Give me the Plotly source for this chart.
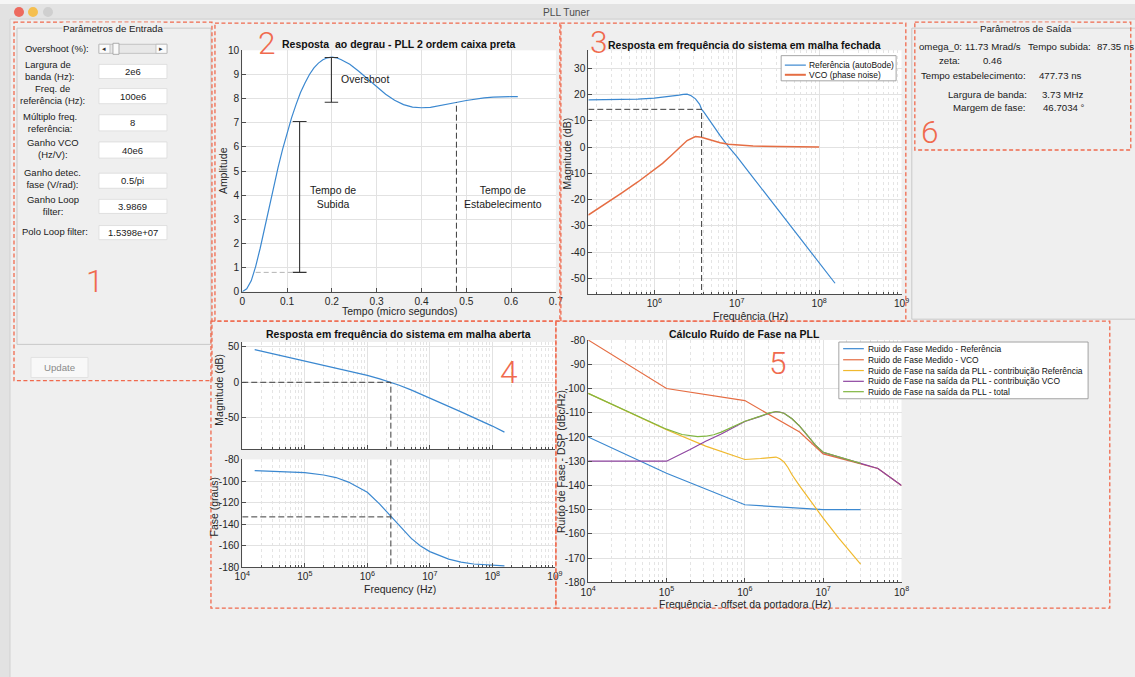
import plotly.graph_objects as go

W, H = 1135, 677
# the photographed page comes back with an 8 px frame and is scaled to 1135x677;
# positions below are given in the reference picture's pixels and mapped through this.
OX, OY = 8.0, 8.0
SX, SY = 1135 / 1151, 677 / 693
FS = 1.0 / ((SX + SY) / 2)

FONT = "Liberation Sans, Arial, Helvetica, sans-serif"
NUMFONT = "Roboto, Lato, sans-serif"
BG = "#efefef"
RED = "#f06a4e"
AX = "#4d4d4d"
TXT = "#262626"
C_BLUE = "#3b88d0"
C_ORANGE = "#e56d43"
C_YELLOW = "#f0b92e"
C_PURPLE = "#8e45a0"
C_GREEN = "#80b640"

# ---------------- data: step response (panel 2) ----------------
step_time_us = [0, 0.01, 0.02, 0.03, 0.04, 0.05, 0.06, 0.07, 0.08, 0.09, 0.10, 0.11, 0.12, 0.13,
                0.14, 0.15, 0.16, 0.17, 0.18, 0.19, 0.20, 0.21, 0.22, 0.23, 0.24, 0.26, 0.28, 0.30,
                0.32, 0.34, 0.36, 0.38, 0.40, 0.42, 0.44, 0.46, 0.48, 0.50, 0.52, 0.54, 0.56, 0.58,
                0.60, 0.615]
step_amplitude = [0, 0.12, 0.45, 1.05, 1.8, 2.65, 3.5, 4.35, 5.15, 5.9, 6.6, 7.2, 7.75, 8.25,
                  8.65, 9.0, 9.27, 9.47, 9.61, 9.69, 9.72, 9.69, 9.62, 9.53, 9.42, 9.13, 8.8, 8.48,
                  8.18, 7.93, 7.75, 7.65, 7.62, 7.64, 7.7, 7.77, 7.85, 7.92, 7.98, 8.03, 8.06, 8.08,
                  8.08, 8.08]
overshoot_bar = dict(t=0.199, low=7.85, high=9.70, half=0.015)
rise_bar = dict(t=0.128, low=0.80, high=7.05, half=0.0155)
rise_start = dict(t0=0.03, level=0.80)
settling = dict(t=0.478, level=7.85)

# ---------------- data: closed loop (panel 3) ----------------
cl_ref_freq_hz = [1.58e5, 3.16e5, 6.3e5, 1e6, 1.58e6, 2e6, 2.24e6, 2.5e6, 2.8e6, 3.16e6, 3.55e6,
                  3.75e6, 4e6, 5e6, 6.3e6, 7.9e6, 1e7, 1.58e7, 3.16e7, 6.3e7, 1e8, 1.56e8]
cl_ref_db = [18.0, 18.1, 18.3, 18.7, 19.3, 19.8, 20.1, 20.2, 19.6, 18.4, 16.3,
             14.4, 13.3, 8.8, 4.4, 0.3, -3.5, -11.6, -23.7, -35.8, -43.9, -51.9]
cl_vco_freq_hz = [1.58e5, 2.5e5, 4e5, 6.3e5, 1e6, 1.26e6, 1.58e6, 2e6, 2.5e6, 3.16e6, 3.55e6,
                  4e6, 5e6, 6.3e6, 7.9e6, 1e7, 1.58e7, 3.16e7, 1e8]
cl_vco_db = [-25.9, -21.6, -17.5, -13.3, -8.8, -6.2, -3.4, -0.4, 2.5, 4.0, 3.9,
             3.5, 2.5, 1.7, 1.1, 0.8, 0.45, 0.2, 0.05]
bandwidth = dict(f=3.75e6, level=14.4)

# ---------------- data: open loop (panel 4) ----------------
ol_freq_hz = [1.58e4, 3.16e4, 1e5, 3.16e5, 1e6, 1.58e6, 2.36e6, 3.16e6, 5e6, 1e7, 3.16e7, 1e8, 1.56e8]
ol_mag_db = [45.8, 39.9, 30.0, 20.1, 9.8, 4.8, 0.0, -3.8, -10.6, -22.0, -41.5, -61.5, -70.0]
ol_phase_freq_hz = [1.58e4, 5e4, 1e5, 2e5, 3.16e5, 5e5, 1e6, 1.58e6, 2e6, 2.4e6, 3.16e6, 4e6,
                    5e6, 7e6, 1e7, 2e7, 3.16e7, 5e7, 1e8, 1.56e8]
ol_phase_deg = [-90.4, -91.1, -92.2, -94.4, -96.8, -101.0, -110.5, -121.5, -128.0, -133.3, -141.0,
                -147.5, -153.0, -160.0, -165.5, -172.5, -175.3, -177.0, -178.3, -178.8]
crossover = dict(f=2.38e6, mag=0.0, phase=-133.3)

# ---------------- data: phase noise (panel 5) ----------------
pn_ref_freq = [1e4, 1e5, 1e6, 1e7, 3e7]
pn_ref_db = [-120, -135, -148, -150, -150]
pn_vco_freq = [1e4, 1e5, 1e6, 5e6, 1e7, 3e7, 5e7, 1e8]
pn_vco_db = [-80, -100, -105, -118, -127, -131, -133, -140]
pn_refc_freq = [1e4, 3.16e4, 1e5, 3.16e5, 1e6, 1.58e6, 2.24e6, 2.5e6, 2.8e6, 3.16e6, 3.55e6,
                4e6, 5e6, 6.3e6, 7.9e6, 1e7, 1.58e7, 3e7]
pn_refc_db = [-102, -109.5, -117, -123.8, -129.3, -128.9, -128.3, -128.3, -129.0, -130.3, -132.6,
              -135.6, -140.2, -144.8, -149.3, -153.5, -161.8, -172.5]
pn_vcoc_freq = [1e4, 1e5, 2e5, 3.16e5, 5e5, 1e6, 1.58e6, 2e6, 2.5e6, 2.8e6, 3.16e6, 4e6, 5e6,
                6.3e6, 7.9e6, 1e7, 1.58e7, 3e7, 5e7, 1e8]
pn_vcoc_db = [-130, -130, -125.2, -121.8, -118.8, -113.6, -111.5, -110.3, -109.6, -109.7, -110.2,
              -112.5, -115.5, -119.5, -123.3, -126.4, -128.4, -130.9, -133, -140]
pn_tot_freq = [1e4, 3.16e4, 1e5, 1.58e5, 2e5, 2.5e5, 3.16e5, 4e5, 5e5, 6.3e5, 1e6, 1.58e6, 2e6,
               2.5e6, 3.16e6, 4e6, 5e6, 6.3e6, 7.9e6, 1e7, 1.58e7, 3e7]
pn_tot_db = [-102, -109.5, -116.8, -119.0, -119.6, -119.9, -119.7, -119.1, -118.0, -116.6, -113.5,
             -111.4, -110.2, -109.5, -110.2, -112.5, -115.5, -119.4, -123.3, -126.3, -128.3, -130.9]

legend3_labels = ["Referência (autoBode)", "VCO (phase noise)"]
legend5_labels = ["Ruido de Fase Medido - Referência", "Ruido de Fase Medido - VCO",
                  "Ruido de Fase na saída da PLL - contribuição Referência",
                  "Ruido de Fase na saída da PLL - contribuição VCO",
                  "Ruido de Fase na saída da PLL - total"]

input_labels = ["Overshoot (%):", "Largura de<br>banda (Hz):", "Freq. de<br>referência (Hz):",
                "Múltiplo freq.<br>referência:", "Ganho VCO<br>(Hz/V):",
                "Ganho detec.<br>fase (V/rad):", "Ganho Loop<br>filter:", "Polo Loop filter:"]
input_values = ["2e6", "100e6", "8", "40e6", "0.5/pi", "3.9869", "1.5398e+07"]

# ---------------- helpers ----------------
annotations, shapes = [], []


def tx(x):
    return (x - OX) / SX


def ty(y):
    return (y - OY) / SY


def P(x, y):
    return tx(x) / W, 1 - ty(y) / H


def text(s, x, y, size=9.5, xa="center", ya="middle", color="#1a1a1a", weight="normal",
         angle=0, align="center", family=FONT, bg=None):
    xp, yp = P(x, y)
    d = dict(text=s, x=xp, y=yp, xref="paper", yref="paper", xanchor=xa, yanchor=ya,
             showarrow=False, textangle=angle, align=align, borderpad=0,
             font=dict(family=family, size=size * FS, color=color, weight=weight))
    if bg:
        d["bgcolor"] = bg
    annotations.append(d)


def rect(x0, y0, x1, y1, fill=None, line=None, width=1, dash=None, layer="above", kind="rect"):
    a, b = P(x0, y0)
    c, d = P(x1, y1)
    ln = dict(width=width if line else 0, color=line or "rgba(0,0,0,0)")
    if dash:
        ln["dash"] = dash
    shapes.append(dict(type=kind, xref="paper", yref="paper", x0=a, y0=b, x1=c, y1=d,
                       fillcolor=fill or "rgba(0,0,0,0)", line=ln, layer=layer))


def seg(x0, y0, x1, y1, color, width=1, dash=None):
    a, b = P(x0, y0)
    c, d = P(x1, y1)
    ln = dict(color=color, width=width)
    if dash:
        ln["dash"] = dash
    shapes.append(dict(type="line", xref="paper", yref="paper", x0=a, y0=b, x1=c, y1=d,
                       line=ln, layer="above"))


def dom_x(a, b):
    return [tx(a) / W, tx(b) / W]


def dom_y(top, bottom):
    return [1 - ty(bottom) / H, 1 - ty(top) / H]


def sup(e):
    return "10<sup>%d</sup>" % e


def axis(domain, rng, anchor, kind="linear", tickvals=None, ticktext=None, labels=True, minor=None):
    d = dict(domain=domain, range=rng, anchor=anchor, type=kind, showline=True, linecolor=AX,
             linewidth=1, mirror=False, ticks="inside", ticklen=4, tickcolor=AX, showgrid=True,
             gridcolor="#e2e2e2", gridwidth=1, zeroline=False, showticklabels=labels,
             tickfont=dict(family=FONT, size=10 * FS, color=TXT), fixedrange=True)
    if tickvals is not None:
        d.update(tickmode="array", tickvals=tickvals,
                 ticktext=ticktext if ticktext is not None else [str(v) for v in tickvals])
    if minor is not None:
        d["minor"] = dict(tickmode="array", tickvals=minor, showgrid=True, gridcolor="#e4e4e4",
                          griddash="dot", ticks="inside", ticklen=2, tickcolor=AX)
    return d


def minor_vals(d0, d1):
    return [m * 10 ** d for d in range(d0, d1) for m in range(2, 10)]


fig = go.Figure()


def line_trace(x, y, xa, ya, color, width=1.2, dash=None):
    ln = dict(color=color, width=width)
    if dash:
        ln["dash"] = dash
    fig.add_trace(go.Scatter(x=x, y=y, mode="lines", line=ln, xaxis=xa, yaxis=ya,
                             showlegend=False, hoverinfo="skip"))


DASH_DARK = "#3c3c3c"

# ---------- panel 2 ----------
line_trace(step_time_us, step_amplitude, "x", "y", C_BLUE)
for bar in (overshoot_bar, rise_bar):
    t, lo, hi, hw = bar["t"], bar["low"], bar["high"], bar["half"]
    line_trace([t, t, None, t - hw, t + hw, None, t - hw, t + hw],
               [lo, hi, None, hi, hi, None, lo, lo], "x", "y", "#333333", 1.1)
line_trace([rise_start["t0"], rise_bar["t"] - rise_bar["half"]], [rise_start["level"]] * 2,
           "x", "y", "#b4b4b4", 1, "5px,3px")
line_trace([settling["t"], settling["t"]], [0, settling["level"]], "x", "y", DASH_DARK, 1, "6px,3px")

# ---------- panel 3 ----------
line_trace(cl_ref_freq_hz, cl_ref_db, "x2", "y2", C_BLUE)
line_trace(cl_vco_freq_hz, cl_vco_db, "x2", "y2", C_ORANGE, 1.5)
line_trace([cl_ref_freq_hz[0], bandwidth["f"], bandwidth["f"]],
           [bandwidth["level"], bandwidth["level"], -56], "x2", "y2", DASH_DARK, 1, "6px,3px")

# ---------- panel 4 ----------
line_trace(ol_freq_hz, ol_mag_db, "x3", "y3", C_BLUE)
line_trace([1e4, crossover["f"], crossover["f"]], [crossover["mag"], crossover["mag"], -93.8],
           "x3", "y3", DASH_DARK, 1, "6px,3px")
line_trace(ol_phase_freq_hz, ol_phase_deg, "x4", "y4", C_BLUE)
line_trace([1e4, crossover["f"], None, crossover["f"], crossover["f"]],
           [crossover["phase"], crossover["phase"], None, -80, -180], "x4", "y4", DASH_DARK, 1, "6px,3px")

# ---------- panel 5 ----------
line_trace(pn_ref_freq, pn_ref_db, "x5", "y5", C_BLUE)
line_trace(pn_vco_freq, pn_vco_db, "x5", "y5", C_ORANGE)
line_trace(pn_refc_freq, pn_refc_db, "x5", "y5", C_YELLOW)
line_trace(pn_vcoc_freq, pn_vcoc_db, "x5", "y5", C_PURPLE)
line_trace(pn_tot_freq, pn_tot_db, "x5", "y5", C_GREEN)

# plot 2 annotations in data space
for s, x, y, xa in [("Overshoot", 0.219, 8.8, "left"),
                    ("Tempo de<br>Subida", 0.2025, 3.9, "center"),
                    ("Tempo de<br>Estabelecimento", 0.583, 3.9, "center")]:
    annotations.append(dict(text=s, x=x, y=y, xref="x", yref="y", xanchor=xa, yanchor="middle",
                            showarrow=False, borderpad=0, align="center",
                            font=dict(family=FONT, size=10.3 * FS, color="#1a1a1a")))

# ---------------- GUI chrome ----------------
# window background continued past the page edges (right and bottom)
shapes.append(dict(type="rect", xref="paper", yref="paper", x0=1.0, x1=1.04, y0=-0.06, y1=1.06,
                   fillcolor=BG, line=dict(width=0), layer="below"))
shapes.append(dict(type="rect", xref="paper", yref="paper", x0=-0.04, x1=1.04, y0=-0.06, y1=0.0,
                   fillcolor=BG, line=dict(width=0), layer="below"))
rect(0, -10, 1160, 7, fill="#f6f6f6", layer="below")
rect(10, 7, 1160, 22, fill="#e3e3e3", layer="below")
seg(10, 22, 1160, 22, "#cdcdcd", 1)
rect(-10, 7, 10, 700, fill="#e2e2e2", layer="below")
seg(10, 22, 10, 700, "#d0d0d0", 1)
for cx, col in [(19, "#ed6a5e"), (33, "#f5bf4f"), (48, "#cfcfcf")]:
    rect(cx - 5, 10, cx + 5, 20, fill=col, line=None, kind="circle")
text("PLL Tuner", 567, 15, size=10, color="#4d4d4d")

# input panel
rect(17, 31, 211, 345, line="#c8c8c8", width=1, layer="below")
text("Parâmetros de Entrada", 113.5, 31.5, size=9.5, bg=BG)
label_pos = [(24, 51, "left"), (24, 73, "left"), (53, 97, "center"), (50, 125, "center"),
             (53, 150.5, "center"), (52.5, 180.5, "center"), (53, 207, "center"), (55, 233, "center")]
for lab, (x, y, xa) in zip(input_labels, label_pos):
    text(lab, x, y, size=9.3, xa=xa, align="left" if xa == "left" else "center")
box_rows = [(67, 81), (91, 106), (117, 133), (144, 160), (175, 190), (201, 215), (227, 241)]
for val, (y0, y1) in zip(input_values, box_rows):
    rect(99, y0, 167, y1, fill="white", line="#dadada", width=0.8)
    text(val, 133, (y0 + y1) / 2, size=9.3)
# slider
rect(99, 47, 167, 56, fill="#e8e8e8", line="#b8b8b8", width=0.8)
rect(99, 47, 110, 56, fill="#fbfbfb", line="#b8b8b8", width=0.8)
rect(156, 47, 167, 56, fill="#fbfbfb", line="#b8b8b8", width=0.8)
rect(113, 46, 119, 57, fill="#fafafa", line="#9c9c9c", width=0.8)
text("◂", 104.5, 51.5, size=7, color="#333")
text("▸", 161.5, 51.5, size=7, color="#333")
# update button
rect(31, 358, 88, 378, fill="#f8f8f8", line="#e2e2e2", width=1)
text("Update", 59.5, 368, size=9.5, color="#8a8a8a")

# output panel
rect(912, 31, 1160, 320, line="#c8c8c8", width=1, layer="below")
text("Parâmetros de Saída", 1026, 31.5, size=9.5, bg=BG)
for s, x, y in [("omega_0:", 918, 49), ("11.73 Mrad/s", 964, 49), ("Tempo subida:", 1027, 49),
                ("87.35 ns", 1096, 49), ("zeta:", 938, 63), ("0.46", 982, 63),
                ("Tempo estabelecimento:", 920, 78), ("477.73 ns", 1038, 78),
                ("Largura de banda:", 947, 97), ("3.73 MHz", 1041, 97),
                ("Margem de fase:", 952, 110), ("46.7034 °", 1042, 110)]:
    text(s, x, y, size=9.5, xa="left")

# axis titles and plot titles
text("Resposta  ao degrau - PLL 2 ordem caixa preta", 399, 47, size=10.3, weight="bold", color="#111")
text("Resposta em frequência do sistema em malha fechada", 745, 48, size=10.3, weight="bold", color="#111")
text("Resposta em frequência do sistema em malha aberta", 399, 335.5, size=10.3, weight="bold", color="#111")
text("Cálculo Ruído de Fase na PLL", 745, 335, size=10.3, weight="bold", color="#111")
text("Tempo (micro segundos)", 399.5, 312.5, size=10.3, color=TXT)
text("Amplitude", 223, 172, size=10.3, color=TXT, angle=-90)
text("Frequência (Hz)", 750.5, 317, size=10.3, color=TXT)
text("Magnitude (dB)", 567.5, 155, size=10.3, color=TXT, angle=-90)
text("Magnitude (dB)", 220, 390, size=10.3, color=TXT, angle=-90)
text("Fase (graus)", 215, 506, size=10.3, color=TXT, angle=-90)
text("Frequency (Hz)", 400, 588, size=10.3, color=TXT)
text("Frequência - offset da portadora (Hz)", 745, 603.5, size=10.3, color=TXT)
text("Ruído de Fase - DSP (dBc/Hz)", 561, 461, size=10.3, color=TXT, angle=-90)

# legends (manual, compact as in the original)
rect(781.3, 58.3, 896.3, 83.3, fill="white", line="#8e8e8e", width=0.8)
for lab, col, y, w in zip(legend3_labels, [C_BLUE, C_ORANGE], [67.7, 77.3], [1.2, 2.0]):
    seg(785, y, 806, y, col, w)
    text(lab, 808, y, size=8.3, xa="left", color="#111")
rect(839, 342.7, 1088.3, 399, fill="white", line="#8e8e8e", width=0.8)
for lab, col, y in zip(legend5_labels, [C_BLUE, C_ORANGE, C_YELLOW, C_PURPLE, C_GREEN],
                       [349.3, 360.3, 371, 381.7, 392]):
    seg(843.3, y, 864, y, col, 1.2)
    text(lab, 866.7, y, size=8.3, xa="left", color="#111")

# red dashed panel boxes and their numbers
RD = "4px,2.5px"
for x0, y0, x1, y1 in [(14, 25, 212, 381), (215, 26, 560, 322), (561, 26, 906, 322),
                       (211, 322, 556, 607), (556, 322, 1110, 607), (915, 25, 1131, 152)]:
    rect(x0, y0, x1, y1, line=RED, width=1.3, dash=RD)
for s, x, y in [("1", 95, 283), ("2", 266.7, 46.7), ("3", 598.7, 45.7), ("4", 509, 373),
                ("5", 778.3, 364), ("6", 930, 134.3)]:
    text(s, x, y, size=31, color=RED, family=NUMFONT, weight=300)

# ---------------- axes ----------------
layout_axes = dict(
    xaxis=axis(dom_x(242.3, 556), [0, 0.7], "y", tickvals=[0, 0.1, 0.2, 0.3, 0.4, 0.5, 0.6, 0.7]),
    yaxis=axis(dom_y(53, 292.7), [0, 10], "x", tickvals=list(range(0, 11))),
    xaxis2=axis(dom_x(588.5, 901.7), [5.2, 9], "y2", kind="log",
                tickvals=[1e6, 1e7, 1e8, 1e9], ticktext=[sup(e) for e in (6, 7, 8, 9)],
                minor=minor_vals(5, 9)),
    yaxis2=axis(dom_y(53, 295), [-56, 36.9], "x2", tickvals=[-50, -40, -30, -20, -10, 0, 10, 20, 30]),
    xaxis3=axis(dom_x(242.3, 555), [4, 9], "y3", kind="log",
                tickvals=[1e4, 1e5, 1e6, 1e7, 1e8, 1e9], labels=False, minor=minor_vals(4, 9)),
    yaxis3=axis(dom_y(342.7, 449), [-93.8, 56.5], "x3", tickvals=[-50, 0, 50]),
    xaxis4=axis(dom_x(242.3, 555), [4, 9], "y4", kind="log",
                tickvals=[1e4, 1e5, 1e6, 1e7, 1e8, 1e9], ticktext=[sup(e) for e in range(4, 10)],
                minor=minor_vals(4, 9)),
    yaxis4=axis(dom_y(459.3, 566.3), [-180, -80], "x4", tickvals=[-180, -160, -140, -120, -100, -80]),
    xaxis5=axis(dom_x(588.3, 901.7), [4, 8], "y5", kind="log",
                tickvals=[1e4, 1e5, 1e6, 1e7, 1e8], ticktext=[sup(e) for e in range(4, 9)],
                minor=minor_vals(4, 8)),
    yaxis5=axis(dom_y(340.7, 581.3), [-180, -80], "x5", tickvals=list(range(-180, -79, 10))),
)

fig.update_layout(
    width=W, height=H, autosize=False, margin=dict(l=0, r=0, t=0, b=0, pad=0),
    paper_bgcolor=BG, plot_bgcolor="white", showlegend=False,
    annotations=annotations, shapes=shapes,
    font=dict(family=FONT, size=10, color=TXT),
    **layout_axes,
)

fig.write_html("out.html")
